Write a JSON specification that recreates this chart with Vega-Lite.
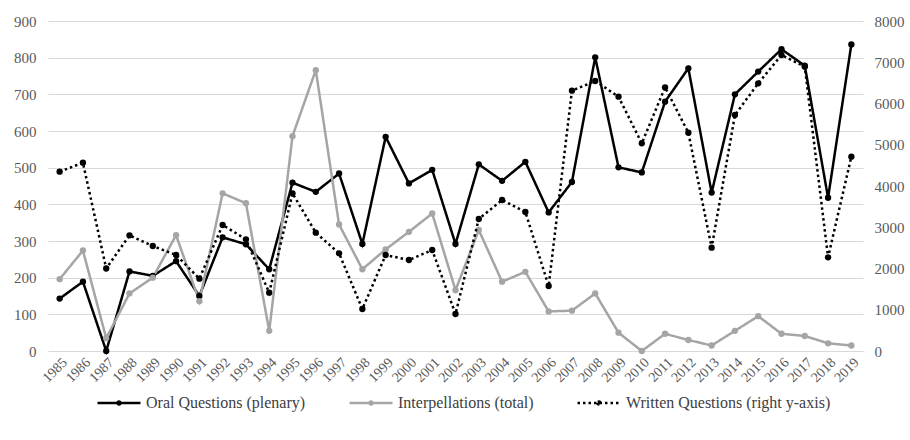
{
  "$schema": "https://vega.github.io/schema/vega-lite/v6.json",
  "width": 815,
  "height": 330,
  "autosize": {"type": "none"},
  "padding": {"left": 48, "top": 21, "right": 47, "bottom": 89},
  "background": "white",
  "config": {
    "font": "Liberation Serif",
    "view": {"stroke": null},
    "axis": {"labelFont": "Liberation Serif", "labelColor": "#595959", "labelFontSize": 15, "ticks": false, "domain": false, "title": null}
  },
  "data": {
    "values": [
      {"year": "1985", "Oral": 143, "Interp": 196, "Written": 4347},
      {"year": "1986", "Oral": 189, "Interp": 274, "Written": 4565},
      {"year": "1987", "Oral": 0, "Interp": 35, "Written": 2000},
      {"year": "1988", "Oral": 217, "Interp": 157, "Written": 2804},
      {"year": "1989", "Oral": 205, "Interp": 200, "Written": 2545},
      {"year": "1990", "Oral": 245, "Interp": 316, "Written": 2327},
      {"year": "1991", "Oral": 150, "Interp": 136, "Written": 1753},
      {"year": "1992", "Oral": 310, "Interp": 430, "Written": 3055},
      {"year": "1993", "Oral": 291, "Interp": 403, "Written": 2707},
      {"year": "1994", "Oral": 223, "Interp": 55, "Written": 1414},
      {"year": "1995", "Oral": 459, "Interp": 586, "Written": 3822},
      {"year": "1996", "Oral": 434, "Interp": 766, "Written": 2868},
      {"year": "1997", "Oral": 484, "Interp": 345, "Written": 2368},
      {"year": "1998", "Oral": 292, "Interp": 223, "Written": 1018},
      {"year": "1999", "Oral": 584, "Interp": 277, "Written": 2327},
      {"year": "2000", "Oral": 457, "Interp": 325, "Written": 2206},
      {"year": "2001", "Oral": 494, "Interp": 375, "Written": 2448},
      {"year": "2002", "Oral": 292, "Interp": 166, "Written": 897},
      {"year": "2003", "Oral": 509, "Interp": 330, "Written": 3200},
      {"year": "2004", "Oral": 464, "Interp": 189, "Written": 3661},
      {"year": "2005", "Oral": 516, "Interp": 216, "Written": 3370},
      {"year": "2006", "Oral": 378, "Interp": 108, "Written": 1576},
      {"year": "2007", "Oral": 461, "Interp": 110, "Written": 6311},
      {"year": "2008", "Oral": 801, "Interp": 157, "Written": 6545},
      {"year": "2009", "Oral": 501, "Interp": 50, "Written": 6165},
      {"year": "2010", "Oral": 487, "Interp": 0, "Written": 5035},
      {"year": "2011", "Oral": 680, "Interp": 47, "Written": 6392},
      {"year": "2012", "Oral": 771, "Interp": 30, "Written": 5293},
      {"year": "2013", "Oral": 432, "Interp": 15, "Written": 2505},
      {"year": "2014", "Oral": 700, "Interp": 55, "Written": 5721},
      {"year": "2015", "Oral": 762, "Interp": 95, "Written": 6489},
      {"year": "2016", "Oral": 823, "Interp": 47, "Written": 7176},
      {"year": "2017", "Oral": 778, "Interp": 41, "Written": 6892},
      {"year": "2018", "Oral": 418, "Interp": 21, "Written": 2271},
      {"year": "2019", "Oral": 836, "Interp": 15, "Written": 4711}
    ]
  },
  "transform": [{"fold": ["Oral", "Interp", "Written"], "as": ["series", "value"]}],
  "encoding": {
    "x": {
      "field": "year",
      "type": "ordinal",
      "axis": {"labelAngle": -45, "grid": false, "labelPadding": 4, "labelFontSize": 14, "labelFont": "Liberation Serif", "labelColor": "#595959"}
    },
    "color": {
      "field": "series",
      "type": "nominal",
      "scale": {"domain": ["Oral", "Interp", "Written"], "range": ["#000000", "#a5a5a5", "#000000"]},
      "legend": {
        "title": null,
        "orient": "none",
        "legendX": 48,
        "legendY": 359,
        "direction": "horizontal",
        "symbolType": "M-1,0H1M-0.07,0A0.07,0.07 0 1,0 0.07,0A0.07,0.07 0 1,0 -0.07,0Z",
        "symbolSize": 1850,
        "symbolStrokeWidth": 2.5,
        "labelFontSize": 16,
        "labelColor": "#404040",
        "labelFont": "Liberation Serif",
        "columnPadding": 38,
        "labelOffset": 4,
        "labelLimit": 400,
        "labelExpr": "{'Oral': 'Oral Questions (plenary)', 'Interp': 'Interpellations (total)', 'Written': 'Written Questions (right y-axis)'}[datum.label]",
        "encode": {"symbols": {"update": {"fill": {"scale": "color", "field": "value"}, "fillOpacity": {"value": 1}}}}
      }
    },
    "strokeDash": {
      "field": "series",
      "type": "nominal",
      "scale": {"domain": ["Oral", "Interp", "Written"], "range": [[1, 0], [1, 0], [2.5, 3]]},
      "legend": {
        "title": null,
        "orient": "none",
        "legendX": 48,
        "legendY": 359,
        "direction": "horizontal",
        "symbolType": "M-1,0H1M-0.07,0A0.07,0.07 0 1,0 0.07,0A0.07,0.07 0 1,0 -0.07,0Z",
        "symbolSize": 1850,
        "symbolStrokeWidth": 2.5,
        "labelFontSize": 16,
        "labelColor": "#404040",
        "labelFont": "Liberation Serif",
        "columnPadding": 38,
        "labelOffset": 4,
        "labelLimit": 400,
        "labelExpr": "{'Oral': 'Oral Questions (plenary)', 'Interp': 'Interpellations (total)', 'Written': 'Written Questions (right y-axis)'}[datum.label]",
        "encode": {"symbols": {"update": {"fill": {"scale": "color", "field": "value"}, "fillOpacity": {"value": 1}}}}
      }
    }
  },
  "layer": [
    {
      "transform": [{"filter": "datum.series !== 'Written'"}],
      "mark": {"type": "line", "strokeWidth": 2.5, "point": {"filled": true, "size": 40}},
      "encoding": {
        "y": {
          "field": "value",
          "type": "quantitative",
          "scale": {"domain": [0, 900]},
          "axis": {"values": [0, 100, 200, 300, 400, 500, 600, 700, 800, 900], "grid": true, "gridColor": "#d9d9d9", "gridWidth": 1, "labelPadding": 12, "labelFont": "Liberation Serif", "labelColor": "#595959", "labelFontSize": 15}
        }
      }
    },
    {
      "transform": [{"filter": "datum.series === 'Written'"}],
      "mark": {"type": "line", "strokeWidth": 2.5, "point": {"filled": true, "size": 40}},
      "encoding": {
        "y": {
          "field": "value",
          "type": "quantitative",
          "scale": {"domain": [0, 8000]},
          "axis": {"orient": "right", "format": "d", "values": [0, 1000, 2000, 3000, 4000, 5000, 6000, 7000, 8000], "grid": false, "labelPadding": 11, "labelFont": "Liberation Serif", "labelColor": "#595959", "labelFontSize": 15}
        }
      }
    }
  ],
  "resolve": {"scale": {"y": "independent"}}
}
